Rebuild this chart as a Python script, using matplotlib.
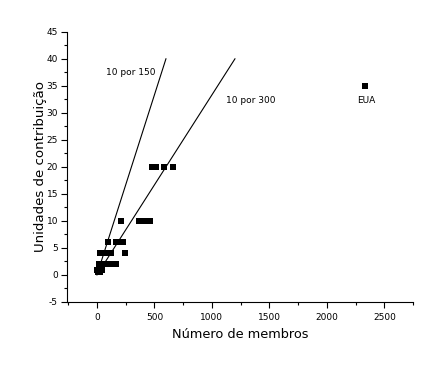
import matplotlib
matplotlib.use("Agg")
import matplotlib.pyplot as plt
from matplotlib.ticker import MultipleLocator

plt.rcParams['axes.unicode_minus'] = False

members = [480, 510, 580, 660,
           210, 370, 420, 460,
           100, 170, 200, 230,
           30, 60, 90, 120, 240,
           20, 50, 80, 110, 140, 170,
           0, 20, 40, 10, 30]
units = [20, 20, 20, 20,
         10, 10, 10, 10,
         6, 6, 6, 6,
         4, 4, 4, 4, 4,
         2, 2, 2, 2, 2, 2,
         1, 1, 1, 0.5, 0.5]
eua_x, eua_y = [2330], [35]
line150_x = [0, 600]
line150_y = [0, 40]
line300_x = [50, 1200]
line300_y = [50 / 30, 40]

fig = plt.figure(figsize=(4.41, 3.70), dpi=100)
ax = fig.add_axes([0.152, 0.184, 0.785, 0.730])
ax.plot(members, units, 's', color='black', markersize=5, markeredgewidth=0)
ax.plot(eua_x, eua_y, 's', color='black', markersize=5, markeredgewidth=0)
ax.plot(line150_x, line150_y, color='black', lw=0.8)
ax.plot(line300_x, line300_y, color='black', lw=0.8)
ax.text(80, 37.5, '10 por 150', fontsize=6.5, ha='left', va='center')
ax.text(1120, 32.3, '10 por 300', fontsize=6.5, ha='left', va='center')
ax.text(2340, 32.3, 'EUA', fontsize=6.5, ha='center', va='center')

ax.set_xlim(-260, 2750)
ax.set_ylim(-5, 45)
ax.xaxis.set_major_locator(MultipleLocator(500))
ax.xaxis.set_minor_locator(MultipleLocator(250))
ax.yaxis.set_major_locator(MultipleLocator(5))
ax.yaxis.set_minor_locator(MultipleLocator(2.5))
for s in ['top', 'right']:
    ax.spines[s].set_visible(False)
ax.tick_params(which='major', length=4, width=0.8, labelsize=6.5)
ax.tick_params(axis='x', which='major', pad=4)
ax.tick_params(axis='y', which='major', pad=2.5)
ax.tick_params(which='minor', length=2, width=0.8)
ax.set_xlabel('Número de membros', fontsize=9.3, labelpad=4)
ax.set_ylabel('Unidades de contribuição', fontsize=9.6, labelpad=0)
fig.savefig('out.png', dpi=100)
